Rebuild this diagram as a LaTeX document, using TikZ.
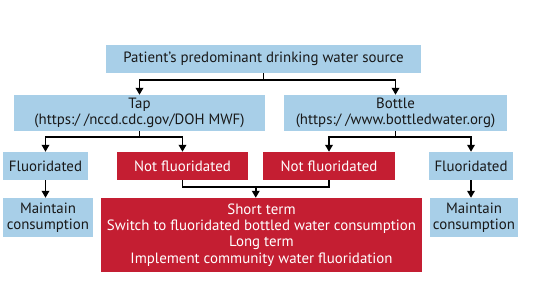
\documentclass[tikz,border=0pt]{standalone}
\usepackage{fontspec}
\setmainfont{PT Sans}
\usetikzlibrary{arrows.meta, positioning, calc}

\definecolor{boxblue}{HTML}{A8CFE8}
\definecolor{boxred}{HTML}{C41E32}

\begin{document}
\begin{tikzpicture}[x=1pt, y=-1pt]
    \tikzstyle{bluebox}=[fill=boxblue, text=black!90, inner sep=0pt, align=center, font=\fontsize{14.9}{16.4}\selectfont, rectangle]
    \tikzstyle{redbox}=[fill=boxred, text=white, inner sep=0pt, align=center, font=\fontsize{14.9}{16.4}\selectfont, rectangle]
    \tikzstyle{arr}=[draw, line width=1.8pt, -{Triangle[length=7pt, width=7.5pt]}]
    \tikzstyle{line}=[draw, line width=1.8pt]

    \useasboundingbox (0, 0) rectangle (540, 304);

    % Source
    \node[bluebox, minimum width=315, minimum height=28] (src) at (263.5, 59) {Patient’s predominant drinking water source};

    % Tap and bottle
    \node[bluebox, minimum width=251, minimum height=36] (tap) at (139.5, 113) {Tap\\(https:/ /nccd.cdc.gov/DOH MWF)};
    \node[bluebox, minimum width=223, minimum height=36] (bottle) at (395.5, 113) {Bottle\\(https:/ /www.bottledwater.org)};

    \draw[arr] (src.south) -- ++(0, 7) -| (tap.north);
    \draw[arr] (src.south) -- ++(0, 7) -| (bottle.north);

    % Fluoridation status
    \node[bluebox, minimum width=85, minimum height=28] (t_fl) at (45.5, 166) {Fluoridated};
    \node[redbox, minimum width=131, minimum height=28] (t_nf) at (182.5, 166) {Not fluoridated};
    \node[redbox, minimum width=132, minimum height=28] (b_nf) at (329, 166) {Not fluoridated};
    \node[bluebox, minimum width=84, minimum height=28] (b_fl) at (471, 166) {Fluoridated};

    \draw[arr] (tap.south) -- ++(0, 6) -| (t_fl.north);
    \draw[arr] (tap.south) -- ++(0, 6) -| (t_nf.north);
    \draw[arr] (bottle.south) -- ++(0, 6) -| (b_nf.north);
    \draw[arr] (bottle.south) -- ++(0, 6) -| (b_fl.north);

    % Recommendations
    \node[bluebox, minimum width=90, minimum height=39] (t_keep) at (48, 217.5) {Maintain\\consumption};
    \node[bluebox, minimum width=88, minimum height=39] (b_keep) at (474, 217.5) {Maintain\\consumption};
    \node[redbox, minimum width=321, minimum height=74] (action) at (261.5, 235) {Short term\\Switch to fluoridated bottled water consumption\\Long term\\Implement community water fluoridation};

    \draw[arr] (t_fl.south) -- (t_keep.north -| t_fl.south);
    \draw[arr] (b_fl.south) -- (b_keep.north -| b_fl.south);

    \draw[line] (t_nf.south) -- ++(0, 7) -| (b_nf.south);
    \coordinate (merge) at ($(t_nf.south)!0.5!(b_nf.south) + (0, 7)$);
    \draw[arr] (merge) -- (merge |- action.north);
\end{tikzpicture}
\end{document}
